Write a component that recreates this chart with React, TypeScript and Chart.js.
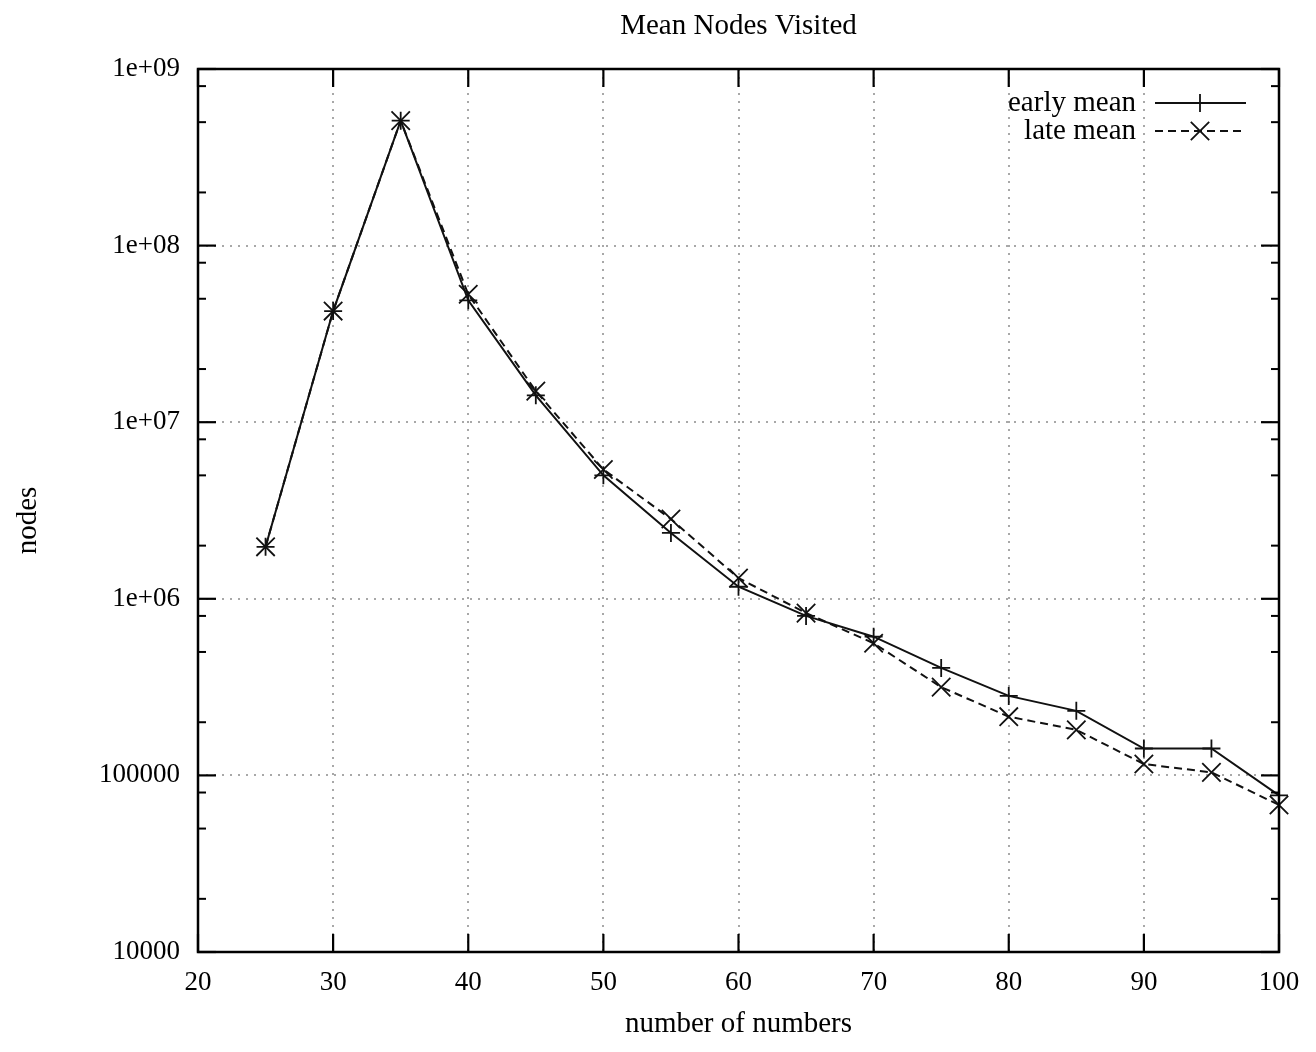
import React, { useEffect, useRef } from 'react';
import { Chart, registerables } from 'chart.js';

Chart.register(...registerables);

// ---- data ----
const xValues = [25, 30, 35, 40, 45, 50, 55, 60, 65, 70, 75, 80, 85, 90, 95, 100];
const earlyMean = [1.97e6, 4.26e7, 5.1e8, 4.9e7, 1.42e7, 5.0e6, 2.36e6, 1.17e6, 8.0e5, 6.1e5, 4.06e5, 2.82e5, 2.32e5, 1.42e5, 1.42e5, 7.7e4];
const lateMean = [1.97e6, 4.26e7, 5.1e8, 5.3e7, 1.5e7, 5.4e6, 2.83e6, 1.31e6, 8.3e5, 5.6e5, 3.16e5, 2.15e5, 1.81e5, 1.16e5, 1.04e5, 6.8e4];
const seriesNames = ['early mean', 'late mean'];
const xTicks = [20, 30, 40, 50, 60, 70, 80, 90, 100];
const yTicks = [1e4, 1e5, 1e6, 1e7, 1e8, 1e9];
const yTickLabels = ['10000', '100000', '1e+06', '1e+07', '1e+08', '1e+09'];
const minorFactors = [2, 5, 8];
const titleText = 'Mean Nodes Visited';
const xTitle = 'number of numbers';
const yTitle = 'nodes';

const FONT = "'Liberation Serif', 'Times New Roman', serif";
const LINE = '#111';

function drawMarker(ctx: CanvasRenderingContext2D, style: string, x: number, y: number, r: number) {
  ctx.beginPath();
  if (style === 'cross') {
    ctx.moveTo(x - r, y); ctx.lineTo(x + r, y);
    ctx.moveTo(x, y - r); ctx.lineTo(x, y + r);
  } else {
    const d = r * Math.SQRT1_2;
    ctx.moveTo(x - d, y - d); ctx.lineTo(x + d, y + d);
    ctx.moveTo(x - d, y + d); ctx.lineTo(x + d, y - d);
  }
  ctx.stroke();
}

const framePlugin = {
  id: 'gnuplotFrame',
  afterDraw(chart: any) {
    const { ctx, chartArea, scales } = chart;
    const { left, right, top, bottom } = chartArea;
    const x = scales.x;
    const y = scales.y;
    ctx.save();
    ctx.strokeStyle = '#000';
    ctx.lineWidth = 2.5;
    ctx.strokeRect(left, top, right - left, bottom - top);
    const seg = (x1: number, y1: number, x2: number, y2: number) => {
      ctx.beginPath(); ctx.moveTo(x1, y1); ctx.lineTo(x2, y2); ctx.stroke();
    };
    ctx.lineWidth = 2.2;
    xTicks.forEach((v) => {
      const px = x.getPixelForValue(v);
      seg(px, bottom, px, bottom - 18);
      seg(px, top, px, top + 18);
    });
    yTicks.forEach((v) => {
      const py = y.getPixelForValue(v);
      seg(left, py, left + 18, py);
      seg(right, py, right - 18, py);
    });
    ctx.lineWidth = 2;
    yTicks.slice(0, -1).forEach((d) => {
      minorFactors.forEach((f) => {
        const py = y.getPixelForValue(d * f);
        seg(left, py, left + 8, py);
        seg(right, py, right - 8, py);
      });
    });

    // titles
    ctx.fillStyle = '#000';
    ctx.font = `29px ${FONT}`;
    ctx.textAlign = 'center';
    ctx.textBaseline = 'middle';
    const cx = (left + right) / 2;
    ctx.fillText(titleText, cx, 26);
    ctx.fillText(xTitle, cx, 1024);
    ctx.save();
    ctx.translate(28, (top + bottom) / 2 + 10);
    ctx.rotate(-Math.PI / 2);
    ctx.fillText(yTitle, 0, 0);
    ctx.restore();

    // legend
    const rows = [
      { label: seriesNames[0], y: 103, dash: [] as number[], marker: 'cross', r: 9 },
      { label: seriesNames[1], y: 131, dash: [8, 5], marker: 'crossRot', r: 13 },
    ];
    ctx.font = `29px ${FONT}`;
    ctx.textAlign = 'right';
    rows.forEach((row) => {
      ctx.fillText(row.label, 1136, row.y);
      ctx.strokeStyle = LINE;
      ctx.lineWidth = 2;
      ctx.setLineDash(row.dash);
      seg(1155, row.y, 1246, row.y);
      ctx.setLineDash([]);
      ctx.lineWidth = 1.8;
      drawMarker(ctx, row.marker, 1200, row.y, row.r);
    });
    ctx.restore();
  },
};

export default function App() {
  const ref = useRef<HTMLCanvasElement>(null);
  useEffect(() => {
    if (!ref.current) return;
    const chart = new Chart(ref.current, {
      type: 'line',
      data: {
        labels: xValues,
        datasets: [
          {
            label: seriesNames[0],
            data: xValues.map((xv, i) => ({ x: xv, y: earlyMean[i] })),
            borderColor: LINE,
            borderWidth: 2,
            pointStyle: 'cross',
            pointRadius: 9,
            pointBorderWidth: 1.8,
            pointBorderColor: LINE,
            pointBackgroundColor: LINE,
            fill: false,
            tension: 0,
            clip: false,
          },
          {
            label: seriesNames[1],
            data: xValues.map((xv, i) => ({ x: xv, y: lateMean[i] })),
            borderColor: LINE,
            borderWidth: 2,
            borderDash: [8, 5],
            pointStyle: 'crossRot',
            pointRadius: 13,
            pointBorderWidth: 1.8,
            pointBorderColor: LINE,
            pointBackgroundColor: LINE,
            fill: false,
            tension: 0,
            clip: false,
          },
        ],
      },
      options: {
        responsive: false,
        animation: false,
        devicePixelRatio: 1,
        layout: { padding: { left: 0, right: 37, top: 69, bottom: 0 } },
        plugins: {
          legend: { display: false },
          tooltip: { enabled: false },
          title: { display: false },
        },
        scales: {
          x: {
            type: 'linear',
            min: 20,
            max: 100,
            afterBuildTicks: (scale: any) => {
              scale.ticks = xTicks.map((v) => ({ value: v }));
            },
            afterFit: (scale: any) => {
              scale.height = 100;
            },
            ticks: {
              color: '#000',
              font: { family: FONT, size: 27 },
              padding: 15,
              maxRotation: 0,
              autoSkip: false,
            },
            grid: {
              color: '#a8a8a8',
              lineWidth: 2,
              drawTicks: false,
            },
            border: { display: false, dash: [2, 6] },
          },
          y: {
            type: 'logarithmic',
            min: 1e4,
            max: 1e9,
            afterBuildTicks: (scale: any) => {
              scale.ticks = yTicks.map((v) => ({ value: v }));
            },
            afterFit: (scale: any) => {
              scale.width = 198;
            },
            ticks: {
              color: '#000',
              font: { family: FONT, size: 27 },
              padding: 18,
              autoSkip: false,
              callback: (value: any) => {
                const i = yTicks.indexOf(Number(value));
                return i >= 0 ? yTickLabels[i] : '';
              },
            },
            grid: {
              color: '#a8a8a8',
              lineWidth: 2,
              drawTicks: false,
            },
            border: { display: false, dash: [2, 6] },
          },
        },
      },
      plugins: [framePlugin],
    } as any);
    return () => chart.destroy();
  }, []);
  return (
    <div style={{ position: 'fixed', left: 0, top: 0, width: 1316, height: 1052, background: '#fff' }}>
      <canvas ref={ref} width={1316} height={1052} style={{ width: 1316, height: 1052, display: 'block' }} />
    </div>
  );
}
